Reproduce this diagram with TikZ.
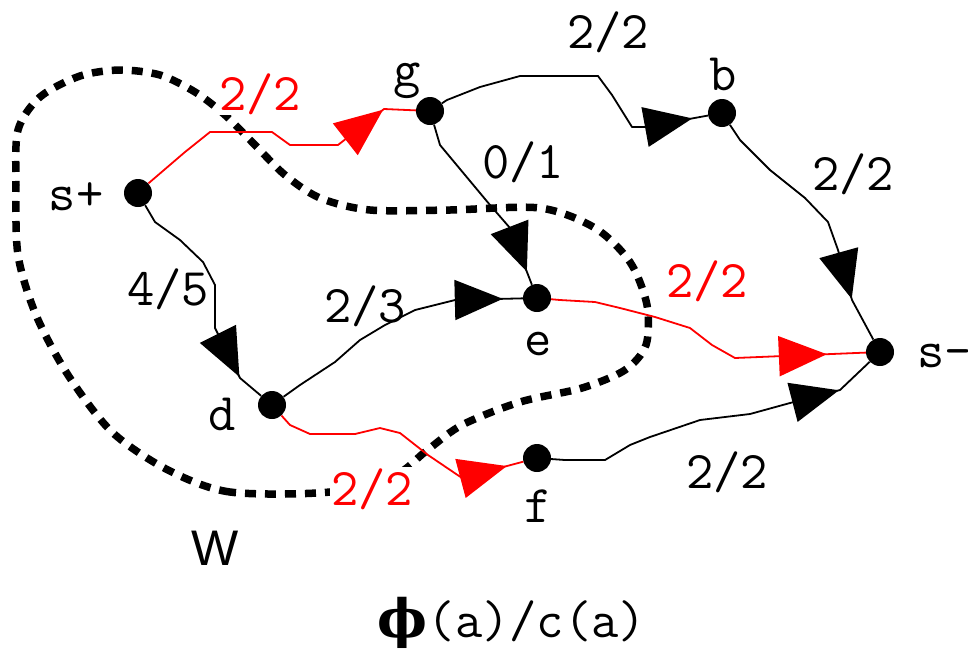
\documentclass[tikz,border=0pt]{standalone}
\usepackage{fontspec}
\usetikzlibrary{arrows.meta, decorations.markings}
\newfontfamily\sansfam{Liberation Sans}
\newfontfamily\phifam{DejaVu Serif}
\begin{document}
\begin{tikzpicture}[x=1pt, y=-1pt,
    vtx/.style={circle, fill=black, inner sep=0pt, minimum size=28pt},
    lbl/.style={anchor=base, inner sep=1pt, font=\ttfamily\fontsize{53}{58}\selectfont},
    flow/.style={line width=1.8pt, line join=round, postaction={decorate},
        decoration={markings, mark=at position #1 with {\arrow{Triangle[length=48pt, width=40pt]}}}},
    wall/.style={line width=7.5pt, dash pattern=on 11pt off 9pt}]
    \useasboundingbox (0,0) rectangle (968,649);
    \draw[wall] plot[smooth cycle] coordinates {(330,492) (230,492) (168,470) (112,432) (68,375) (36,315) (18,255) (16,185) (18,130) (40,97) (80,76) (120,70) (160,75) (195,92) (225,115) (255,145) (285,175) (320,198) (370,210) (450,210) (540,208) (595,228) (630,262) (647,305) (646,345) (625,370) (582,388) (520,402) (462,425) (425,452) (395,475)};
    \node[vtx] (sp) at (138,193) {};
    \node[vtx] (g)  at (430,111) {};
    \node[vtx] (b)  at (722,113) {};
    \node[vtx] (e)  at (537,298) {};
    \node[vtx] (d)  at (272,405) {};
    \node[vtx] (f)  at (537,458) {};
    \node[vtx] (sm) at (880,352) {};
    \draw[flow=-33pt, red] (sp) -- (150,182) -- (185,152) -- (210,132) -- (272,132) -- (290,145) -- (338,145) -- (384,109) -- (g);
    \draw[flow=-16pt] (g) -- (447,100) -- (480,87) -- (520,76) -- (598,76) -- (612,95) -- (632,127) -- (645,127) -- (b);
    \draw[flow=-14pt] (g) -- (440,145) -- (465,175) -- (490,205) -- (510,228) -- (e);
    \draw[flow=-46pt] (b) -- (740,140) -- (770,170) -- (805,198) -- (828,222) -- (838,250) -- (852,300) -- (sm);
    \draw[flow=-29pt] (sp) -- (155,222) -- (180,240) -- (203,262) -- (215,285) -- (215,328) -- (240,378) -- (d);
    \draw[flow=-20pt] (d) -- (300,385) -- (335,362) -- (360,340) -- (385,325) -- (415,310) -- (455,300) -- (e);
    \draw[flow=-39pt, red] (e) -- (560,300) -- (595,302) -- (620,308) -- (655,317) -- (690,328) -- (712,345) -- (735,358) -- (sm);
    \draw[flow=-17pt, red] (d) -- (290,425) -- (310,434) -- (355,434) -- (380,428) -- (400,433) -- (428,455) -- (462,478) -- (f);
    \draw[flow=-42pt] (f) -- (565,460) -- (605,460) -- (630,445) -- (650,437) -- (700,420) -- (750,414) -- (790,403) -- (840,390) -- (sm);
    \node[lbl] (lsp) at (76,210)  {s+};
    \node[lbl] (lg)  at (407,86)  {g};
    \node[lbl] (lb)  at (723,90)  {b};
    \node[lbl] (le)  at (538,355) {e};
    \node[lbl] (ld)  at (222,430) {d};
    \node[lbl] (lf)  at (538,522) {f};
    \node[lbl, anchor=base west] (lsm) at (916,367) {s-};
    \node[lbl, red, fill=white] (c1) at (260,110) {2/2};
    \node[lbl] (c2) at (608,48)  {2/2};
    \node[lbl] (c3) at (523,178) {0/1};
    \node[lbl] (c4) at (853,190) {2/2};
    \node[lbl] (c5) at (168,305) {4/5};
    \node[lbl] (c6) at (365,322) {2/3};
    \node[lbl, red] (c7) at (707,297) {2/2};
    \node[lbl, red, fill=white] (c8) at (372,505) {2/2};
    \node[lbl] (c9) at (727,488) {2/2};
    \node[anchor=base, font=\sansfam\fontsize{50}{55}\selectfont] (w) at (215,565) {W};
    \node[lbl] (key) at (512,637) {{\phifam\bfseries ϕ}(a)/c(a)};
\end{tikzpicture}
\end{document}
